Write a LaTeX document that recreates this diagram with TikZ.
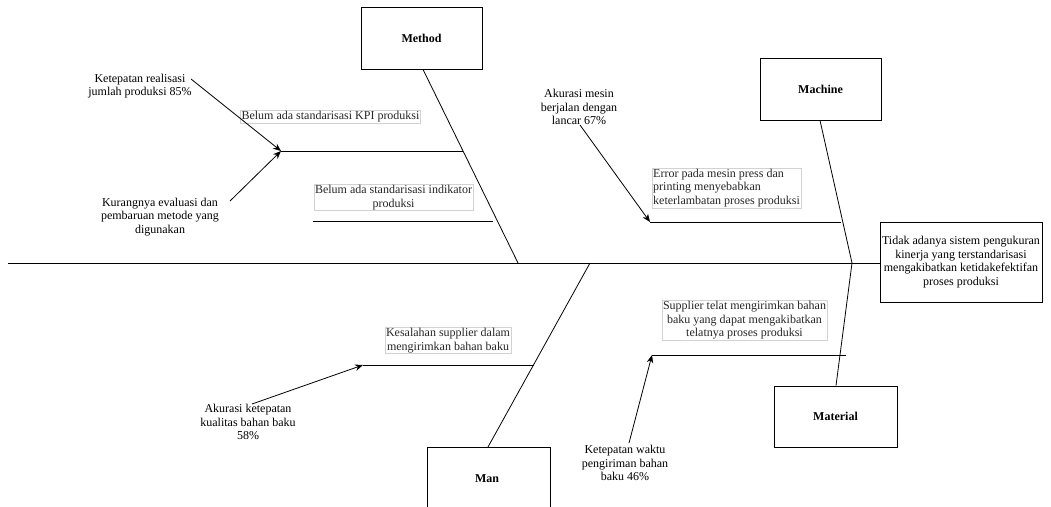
\documentclass[tikz,border=0pt]{standalone}
\usepackage{fontspec}
\setmainfont{Liberation Serif}
\usetikzlibrary{arrows.meta}
\begin{document}
\begin{tikzpicture}[x=1pt,y=-1pt,
  every node/.style={font=\fontsize{12}{13.5}\selectfont},
  catbox/.style={draw=black,line width=0.8pt,minimum width=121pt,minimum height=62pt,font=\fontsize{12}{13.5}\selectfont\bfseries},
  effbox/.style={draw=black,line width=0.8pt,minimum width=162pt,minimum height=80pt,align=center,inner sep=1pt},
  causelbl/.style={draw=gray!35,line width=0.5pt,inner sep=1pt,align=center,text=black!85},
  kpilbl/.style={inner sep=1pt,align=center},
  bone/.style={draw=black,line width=0.8pt},
  arr/.style={draw=black,line width=0.8pt,-{Stealth[length=8pt,width=6.5pt]}}
]
\useasboundingbox (0,0) rectangle (1051,506);
\fill[white] (0,0) rectangle (1051,506);

% category boxes
\node[catbox] (method) at (421.5,38) {Method};
\node[catbox] (machine) at (820.5,89) {Machine};
\node[catbox,minimum width=123pt,minimum height=61pt] (material) at (835.5,416.5) {Material};
\node[catbox,minimum width=123pt,minimum height=62pt,anchor=north] (man) at (488.5,447) {};
\node[font=\fontsize{12}{13.5}\selectfont\bfseries] (mantxt) at (487,479) {Man};

% effect
\node[effbox] (effect) at (961,262) {Tidak adanya sistem pengukuran\\kinerja yang terstandarisasi\\mengakibatkan ketidakefektifan\\proses produksi};

% spine
\coordinate (tail) at (8,263);
\coordinate (jmethod) at (518,263);
\coordinate (jmachine) at (852,263);
\coordinate (jman) at (590,263);
\draw[bone] (tail) -- (effect.west |- tail);
\draw[bone] (method.south -| 423,0) -- (jmethod);
\draw[bone] (machine.south -| 820,0) -- (jmachine);
\draw[bone] (jmachine) -- (material.north -| 836,0);
\draw[bone] (man.north -| 488,0) -- (jman);

% sub-bones
\coordinate (m1s) at (281,151); \coordinate (m1e) at (463,151);
\coordinate (m2s) at (313,221); \coordinate (m2e) at (493,221);
\coordinate (c1s) at (650,222); \coordinate (c1e) at (841,222);
\coordinate (s1s) at (652,355); \coordinate (s1e) at (846,355);
\coordinate (n1s) at (363,365); \coordinate (n1e) at (534,365);
\draw[bone] (m1s) -- (m1e);
\draw[bone] (m2s) -- (m2e);
\draw[bone] (c1s) -- (c1e);
\draw[bone] (s1s) -- (s1e);
\draw[bone] (n1s) -- (n1e);

% cause labels
\node[causelbl] (kpi) at (330.5,117) {Belum ada standarisasi KPI produksi};
\node[causelbl] (ind) at (393.5,197.5) {Belum ada standarisasi indikator\\produksi};
\node[causelbl,align=left] (err) at (726.5,188) {Error pada mesin press dan\\printing menyebabkan\\keterlambatan proses produksi};
\node[causelbl] (sup) at (744.5,320.5) {Supplier telat mengirimkan bahan\\baku yang dapat mengakibatkan\\telatnya proses produksi};
\node[causelbl] (kes) at (448,340.5) {Kesalahan supplier dalam\\mengirimkan bahan baku};

% KPI texts
\node[kpilbl] (kr) at (140,86) {Ketepatan realisasi\\jumlah produksi 85\%};
\node[kpilbl] (ke) at (160,217) {Kurangnya evaluasi dan\\pembaruan metode yang\\digunakan};
\node[kpilbl] (akm) at (579,107) {Akurasi mesin\\berjalan dengan\\lancar 67\%};
\node[kpilbl] (ktw) at (625,463) {Ketepatan waktu\\pengiriman bahan\\baku 46\%};
\node[kpilbl] (akk) at (248,422) {Akurasi ketepatan\\kualitas bahan baku\\58\%};

% arrows
\coordinate (krs) at (191,79);
\coordinate (kes0) at (230,201);
\coordinate (akms) at (580,125);
\coordinate (ktws) at (629,443);
\coordinate (akks) at (252,404);
\draw[arr] (krs) -- (m1s);
\draw[arr] (kes0) -- (m1s);
\draw[arr] (akms) -- (c1s);
\draw[arr] (ktws) -- (s1s);
\draw[arr] (akks) -- (n1s);
\end{tikzpicture}
\end{document}
